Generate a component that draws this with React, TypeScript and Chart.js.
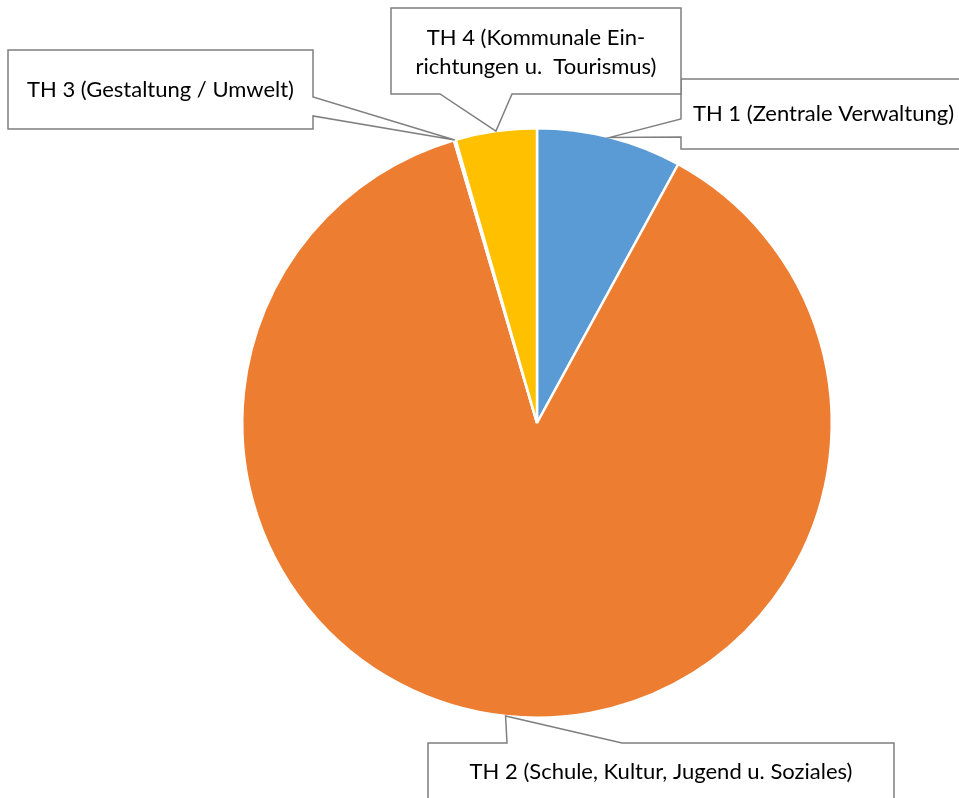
import React, { useEffect, useRef } from "react";
import { Chart, registerables } from "chart.js";

Chart.register(...registerables);

const categories = [
  "TH 1 (Zentrale Verwaltung)",
  "TH 2 (Schule, Kultur, Jugend u. Soziales)",
  "TH 3 (Gestaltung / Umwelt)",
  "TH 4 (Kommunale Ein-richtungen u.  Tourismus)",
];
const labelLines = [
  ["TH 1 (Zentrale Verwaltung)"],
  ["TH 2 (Schule, Kultur, Jugend u. Soziales)"],
  ["TH 3 (Gestaltung / Umwelt)"],
  ["TH 4 (Kommunale Ein-", "richtungen u.  Tourismus)"],
];
const values = [7.95, 87.5, 0.1, 4.45];
const colors = ["#5B9BD5", "#ED7D31", "#A5A5A5", "#FFC000"];

type Box = {
  l: number; t: number; r: number; b: number;
  side: "left" | "right" | "top" | "bottom";
  a: number; c: number; ty: number;
};
// callout box layout (left, top, right, bottom, wedge side and wedge span)
const boxes: Box[] = [
  { l: 681, t: 79, r: 966, b: 149, side: "left", a: 119, c: 137, ty: 114 },
  { l: 428, t: 743, r: 894, b: 830, side: "top", a: 507, c: 622, ty: 772 },
  { l: 8, t: 50, r: 313, b: 129, side: "right", a: 97, c: 116, ty: 90 },
  { l: 391, t: 8, r: 681, b: 94, side: "bottom", a: 440, c: 512, ty: 38 },
];

const FONT = "22px Lato, 'Noto Sans', sans-serif";

const calloutPlugin = {
  id: "callouts",
  afterDraw(chart: any) {
    const ctx = chart.ctx;
    const meta = chart.getDatasetMeta(0);
    ctx.save();
    meta.data.forEach((arc: any, i: number) => {
      const p = arc.getProps(["x", "y", "startAngle", "endAngle", "outerRadius"], true);
      const mid = (p.startAngle + p.endAngle) / 2;
      const tx = p.x + Math.cos(mid) * p.outerRadius;
      const ty = p.y + Math.sin(mid) * p.outerRadius;
      const bx = boxes[i];
      ctx.beginPath();
      ctx.moveTo(bx.l, bx.t);
      if (bx.side === "top") {
        ctx.lineTo(bx.a, bx.t);
        ctx.lineTo(tx, ty);
        ctx.lineTo(bx.c, bx.t);
      }
      ctx.lineTo(bx.r, bx.t);
      if (bx.side === "right") {
        ctx.lineTo(bx.r, bx.a);
        ctx.lineTo(tx, ty);
        ctx.lineTo(bx.r, bx.c);
      }
      ctx.lineTo(bx.r, bx.b);
      if (bx.side === "bottom") {
        ctx.lineTo(bx.c, bx.b);
        ctx.lineTo(tx, ty);
        ctx.lineTo(bx.a, bx.b);
      }
      ctx.lineTo(bx.l, bx.b);
      if (bx.side === "left") {
        ctx.lineTo(bx.l, bx.c);
        ctx.lineTo(tx, ty);
        ctx.lineTo(bx.l, bx.a);
      }
      ctx.closePath();
      ctx.fillStyle = "#ffffff";
      ctx.fill();
      ctx.lineWidth = 1.5;
      ctx.strokeStyle = "#7F7F7F";
      ctx.stroke();

      ctx.fillStyle = "#000000";
      ctx.font = FONT;
      ctx.textAlign = "center";
      ctx.textBaseline = "middle";
      const cx = (bx.l + bx.r) / 2;
      labelLines[i].forEach((line, j) => {
        ctx.fillText(line, cx, bx.ty + j * 29);
      });
    });
    ctx.restore();
  },
};

export default function App() {
  const ref = useRef<HTMLCanvasElement | null>(null);
  useEffect(() => {
    if (!ref.current) return;
    const chart = new Chart(ref.current, {
      type: "pie",
      data: {
        labels: categories,
        datasets: [
          {
            data: values,
            backgroundColor: colors,
            borderColor: "#ffffff",
            borderWidth: 2.5,
            hoverOffset: 0,
          },
        ],
      },
      options: {
        responsive: false,
        animation: false,
        layout: { padding: { left: 241, right: 126, top: 127, bottom: 79 } },
        plugins: {
          legend: { display: false },
          tooltip: { enabled: false },
        },
      },
      plugins: [calloutPlugin],
    });
    return () => chart.destroy();
  }, []);
  return (
    <div style={{ position: "fixed", left: 0, top: 0, width: 959, height: 798, background: "#fff" }}>
      <canvas ref={ref} width={959} height={798} style={{ display: "block" }} />
    </div>
  );
}
